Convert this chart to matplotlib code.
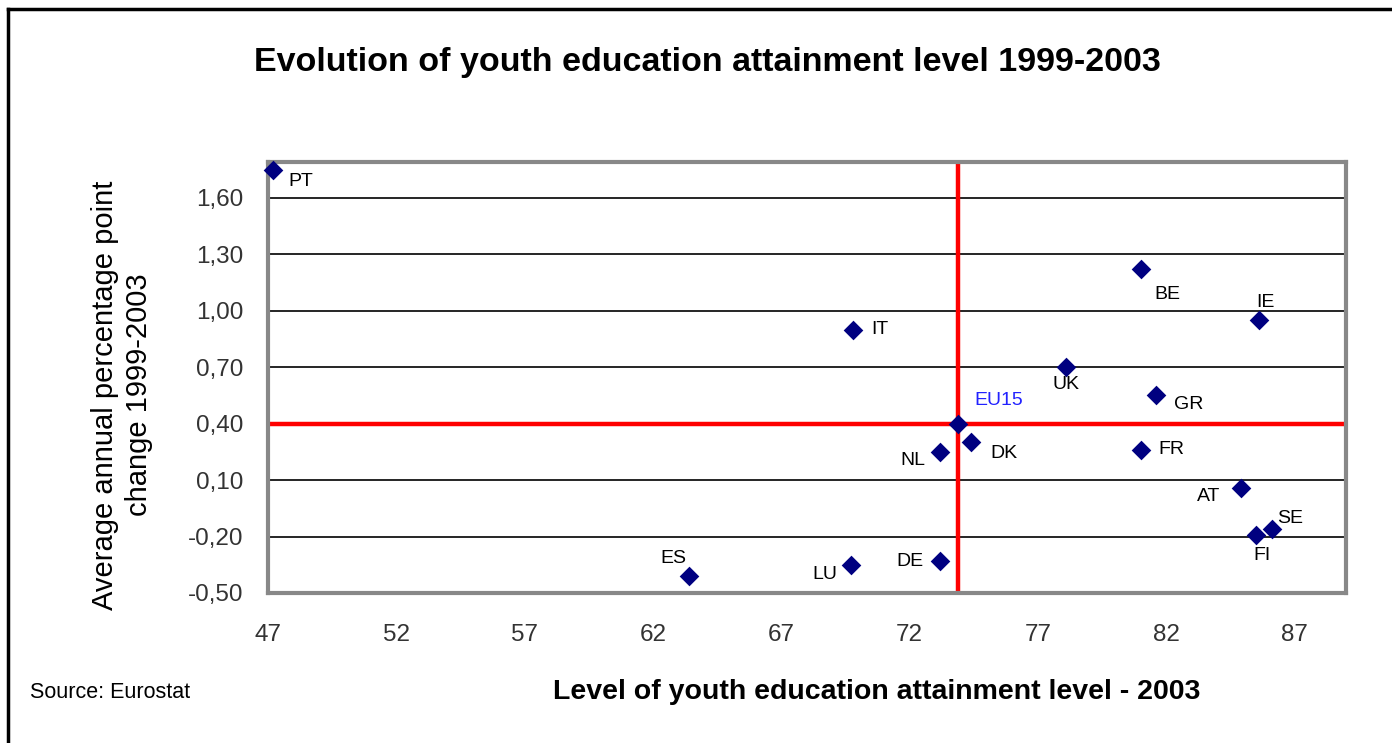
import matplotlib
matplotlib.use("Agg")
import matplotlib.pyplot as plt
from matplotlib.lines import Line2D

plt.rcParams['font.family'] = ['Liberation Sans', 'DejaVu Sans']

countries = ["PT", "IT", "BE", "IE", "UK", "GR", "EU15", "DK", "NL", "FR",
             "AT", "SE", "FI", "DE", "LU", "ES"]
level_2003 = [47.2, 69.8, 81.0, 85.6, 78.1, 81.6, 73.9, 74.4, 73.2, 81.0,
              84.9, 86.1, 85.5, 73.2, 69.7, 63.4]
annual_change = [1.75, 0.90, 1.22, 0.95, 0.70, 0.55, 0.40, 0.30, 0.25, 0.26,
                 0.06, -0.16, -0.19, -0.33, -0.35, -0.41]
label_names = ["PT", "IT", "BE", "IE", "UK", "GR", "EU15", "DK", "NL", "FR",
               "AT", "SE", "FI", "DE", "LU", "ES"]
x_ticks = [47, 52, 57, 62, 67, 72, 77, 82, 87]
y_ticks = [-0.50, -0.20, 0.10, 0.40, 0.70, 1.00, 1.30, 1.60]
y_tick_labels = ["-0,50", "-0,20", "0,10", "0,40", "0,70", "1,00", "1,30", "1,60"]

# label offsets in pixels (dx, dy upward)
offsets = {"PT": (28, -12), "IT": (27, 0), "BE": (27, -25), "IE": (7, 18),
           "UK": (0, -17), "GR": (33, -9), "EU15": (40, 23), "DK": (33, -11),
           "NL": (-28, -9), "FR": (31, 0), "AT": (-32, -9), "SE": (19, 11),
           "FI": (6, -21), "DE": (-31, 0), "LU": (-26, -10), "ES": (-16, 18)}

fig = plt.figure(figsize=(13.92, 7.43), dpi=100)
ax = fig.add_axes([268/1392, 1-593/743, (1346-268)/1392, (593-162)/743])

ax.set_xlim(47, 89)
ax.set_ylim(-0.5, 1.79)

for yv in y_ticks[1:]:
    ax.axhline(yv, color="black", lw=1.2, zorder=1)

eu_idx = countries.index("EU15")
ax.axhline(annual_change[eu_idx], color="#ff0000", lw=3.2, zorder=2)
ax.axvline(level_2003[eu_idx], color="#ff0000", lw=3.2, zorder=2)

ax.scatter(level_2003, annual_change, marker="D", s=100, color="#000080",
           zorder=4, clip_on=False, linewidths=0)

for name, x, y in zip(label_names, level_2003, annual_change):
    dx, dy = offsets[name]
    col = "#2222ff" if name == "EU15" else "black"
    ax.annotate(name, (x, y), xytext=(dx, dy), textcoords="offset pixels",
                ha="center", va="center", fontsize=14, color=col, zorder=5)

ax.set_xticks(x_ticks)
ax.set_xticklabels([str(v) for v in x_ticks])
ax.set_yticks(y_ticks)
ax.set_yticklabels(y_tick_labels)
ax.tick_params(axis="both", length=0, labelsize=17.5, colors="#333333")
ax.tick_params(axis="y", pad=18)
ax.tick_params(axis="x", pad=22)

for s in ax.spines.values():
    s.set_color("#888888")
    s.set_linewidth(3)

fig.text(707/1392, 1-62/743, "Evolution of youth education attainment level 1999-2003",
         ha="center", va="center", fontsize=24.5, fontweight="bold")
fig.text(877/1392, 1-692/743, "Level of youth education attainment level - 2003",
         ha="center", va="center", fontsize=20.5, fontweight="bold")
fig.text(122/1392, 1-395/743, "Average annual percentage point\nchange 1999-2003",
         ha="center", va="center", rotation=90, fontsize=21, linespacing=1.3)
fig.text(30/1392, 1-692/743, "Source: Eurostat", ha="left", va="center", fontsize=15.5)

fig.add_artist(Line2D([8/1392, 1], [1-9/743, 1-9/743], color="black", lw=2.5,
                      transform=fig.transFigure))
fig.add_artist(Line2D([8/1392, 8/1392], [0, 1-9/743], color="black", lw=2.5,
                      transform=fig.transFigure))

fig.savefig("out.png", dpi=100)
